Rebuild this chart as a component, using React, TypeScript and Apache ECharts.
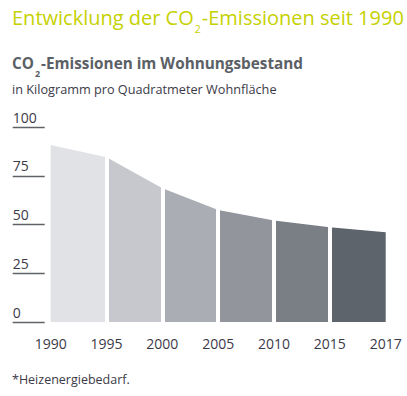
import React, { useEffect, useRef } from "react";
import * as echarts from "echarts";

const years = ["1990", "1995", "2000", "2005", "2010", "2015", "2017"];
const emissions = [90.8, 84.5, 68.6, 57.4, 52.0, 48.6, 46.0];
const segmentColors = ["#e1e2e6", "#c7c8cd", "#aaadb4", "#92959c", "#7a7f86", "#5e646b"];
const yTicks = [0, 25, 50, 75, 100];

const FONT = "'Open Sans', sans-serif";

export default function App() {
  const ref = useRef<HTMLDivElement>(null);
  useEffect(() => {
    if (!ref.current) return;
    const chart = echarts.init(ref.current, undefined, { renderer: "svg" });
    const series: any[] = segmentColors.map((c, i) => ({
      type: "line",
      data: years.map((_, j) => (j === i || j === i + 1 ? emissions[j] : null)),
      symbol: "none",
      lineStyle: { width: 0 },
      areaStyle: { color: c, opacity: 1 },
      z: 2,
      silent: true,
    }));
    series.push({
      type: "line",
      data: [],
      silent: true,
      z: 5,
      markLine: {
        silent: true,
        symbol: "none",
        label: { show: false },
        lineStyle: { color: "#ffffff", width: 4, type: "solid" },
        data: years.slice(1, years.length - 1).map((y) => ({ xAxis: y })),
      },
    });
    chart.setOption({
      animation: false,
      grid: { left: 50.7, right: 21.3, top: 127, bottom: 74 },
      xAxis: {
        type: "category",
        data: years,
        boundaryGap: false,
        axisLine: { show: false },
        axisTick: { show: false },
        axisLabel: { margin: 14, fontSize: 14, color: "#3b3a48", fontFamily: FONT },
      },
      yAxis: {
        type: "value",
        min: yTicks[0],
        max: yTicks[yTicks.length - 1],
        interval: 25,
        offset: 6,
        splitLine: { show: false },
        axisLine: { show: false },
        axisTick: { show: true, length: 32, lineStyle: { color: "#5f6368", width: 1.3 } },
        axisLabel: {
          margin: 32,
          align: "left",
          verticalAlign: "bottom",
          padding: [0, 0, 3, 0],
          fontSize: 14,
          color: "#3b3a48",
          fontFamily: FONT,
        },
      },
      graphic: [
        {
          type: "text",
          left: 12,
          top: 7,
          style: {
            text: "{a|Entwicklung der CO}{s|2}{a|-Emissionen seit 1990}",
            rich: {
              a: { fontSize: 20, fontWeight: 500, fontFamily: FONT, fill: "#c5d100", lineHeight: 26, verticalAlign: "bottom" },
              s: { fontSize: 10.5, fontWeight: 500, fontFamily: FONT, fill: "#c5d100", verticalAlign: "bottom", padding: [0, 1, -7, 1] },
            },
          },
        },
        {
          type: "text",
          left: 12,
          top: 55,
          style: {
            text: "{a|CO}{s|2}{a|-Emissionen im Wohnungsbestand}",
            rich: {
              a: { fontSize: 15.3, fontWeight: "bold", fontFamily: FONT, fill: "#5b5f66", lineHeight: 22, verticalAlign: "bottom" },
              s: { fontSize: 9, fontWeight: "bold", fontFamily: FONT, fill: "#5b5f66", verticalAlign: "bottom", padding: [0, 1, -8, 1] },
            },
          },
        },
        {
          type: "text",
          left: 12,
          top: 82,
          style: { text: "in Kilogramm pro Quadratmeter Wohnfläche", fontSize: 12.7, fontFamily: FONT, fill: "#3b3a48" },
        },
        {
          type: "text",
          left: 12,
          top: 373,
          style: { text: "*Heizenergiebedarf.", fontSize: 12.5, fontFamily: FONT, fill: "#3b3a48" },
        },
      ],
      series,
    });
    return () => chart.dispose();
  }, []);
  return <div ref={ref} style={{ width: 407, height: 396, position: "absolute", left: 0, top: 0 }} />;
}
